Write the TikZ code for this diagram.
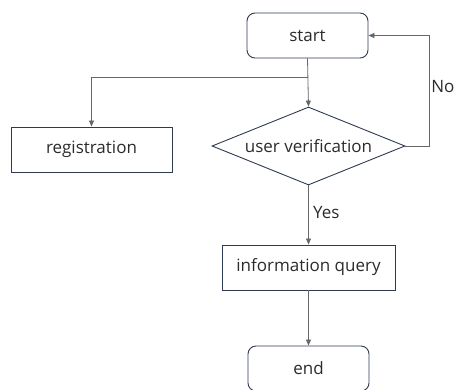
\documentclass[tikz,border=0pt]{standalone}
\usepackage{fontspec}
\setmainfont{Open Sans}
\usetikzlibrary{arrows.meta,positioning,shapes.geometric}
\definecolor{boxline}{HTML}{2E3A50}
\definecolor{linkgray}{HTML}{666666}
\definecolor{labeltext}{HTML}{2B2B2B}

\begin{document}
\begin{tikzpicture}[
  x=1pt, y=-1pt,
  terminal/.style={draw=boxline, rectangle, rounded corners=8pt, line width=0.9pt,
                   minimum width=121pt, minimum height=45pt,
                   font=\fontsize{17}{20}\selectfont, text=labeltext},
  process/.style={draw=boxline, rectangle, line width=0.9pt,
                  minimum height=45pt,
                  font=\fontsize{17}{20}\selectfont, text=labeltext},
  decision/.style={draw=boxline, diamond, aspect=2.47, line width=0.9pt, inner sep=0pt,
                   minimum width=193pt, minimum height=78pt,
                   font=\fontsize{17}{20}\selectfont, text=labeltext},
  arr/.style={-{Triangle[length=6pt,width=5pt]}, draw=linkgray, line width=0.8pt},
  lbl/.style={font=\fontsize{17}{20}\selectfont, text=labeltext}
]
  \useasboundingbox (0,0) rectangle (455,389);

  %% Components
  \node[terminal] (start) at (307.5,35.5) {start};
  \node[process, minimum width=161pt] (reg) at (91.5,149.5) {registration};
  \node[decision] (verify) at (308.5,146) {user verification};
  \node[process, minimum width=173pt] (query) at (308.5,267.5) {information query};
  \node[terminal] (end) at (308.5,368.5) {end};

  \coordinate (fork) at (start.south |- 0,77);
  \coordinate (back) at (429,146);

  %% Arrows
  \draw[arr] (start.south) -- (verify.north);
  \draw[arr] (fork) -| (reg.north);
  \draw[arr] (verify.south) -- node[lbl, right=1pt, pos=0.45] (yes) {Yes} (query.north);
  \draw[arr] (query.south) -- (end.north);
  \draw[arr] (verify.east) -- (back) |- node[lbl, inner sep=0pt, right=2pt, pos=0.27] (no) {No} (start.east);

\end{tikzpicture}
\end{document}
